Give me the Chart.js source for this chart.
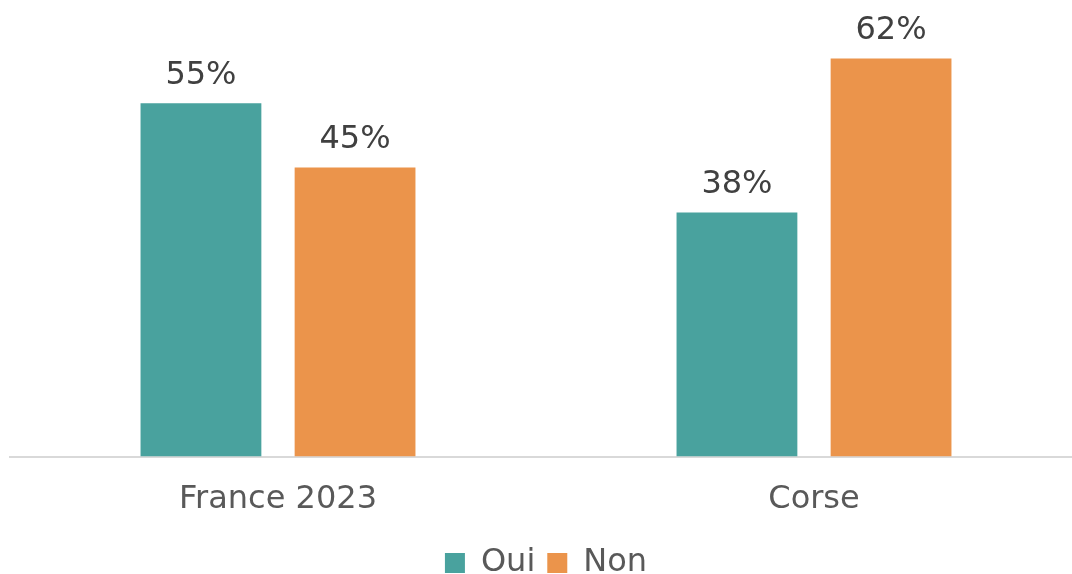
<!DOCTYPE html>
<html>
<head>
<meta charset="utf-8">
<script src="https://cdn.jsdelivr.net/npm/chart.js@4"></script>
<style>
  html, body { margin: 0; padding: 0; background: #fff; overflow: hidden; }
  #wrap { width: 1082px; height: 589px; }
</style>
</head>
<body>
<div id="wrap"><canvas id="chart"></canvas></div>
<script>
const categories = ["France 2023", "Corse"];
const seriesNames = ["Oui", "Non"];
const ouiValues = [55, 38];
const nonValues = [45, 62];
const seriesColors = ["#49A29E", "#EB944B"];

const FONT = "'DejaVu Sans', Verdana, sans-serif";

// draws the percentage above each bar
const barLabels = {
  id: "barLabels",
  afterDatasetsDraw(chart) {
    const ctx = chart.ctx;
    ctx.save();
    ctx.font = "32px " + FONT;
    ctx.fillStyle = "#404040";
    ctx.textAlign = "center";
    ctx.textBaseline = "bottom";
    chart.data.datasets.forEach((ds, i) => {
      chart.getDatasetMeta(i).data.forEach((bar, j) => {
        ctx.fillText(ds.data[j] + "%", bar.x, bar.y - 12);
      });
    });
    ctx.restore();
  }
};

new Chart(document.getElementById("chart"), {
  type: "bar",
  data: {
    labels: categories,
    datasets: [
      { label: seriesNames[0], data: ouiValues, backgroundColor: seriesColors[0] },
      { label: seriesNames[1], data: nonValues, backgroundColor: seriesColors[1] }
    ]
  },
  options: {
    responsive: true,
    maintainAspectRatio: false,
    animation: false,
    categoryPercentage: 0.575,
    barPercentage: 0.784,
    layout: { padding: { left: 10, right: 0, top: 7, bottom: 0 } },
    scales: {
      x: {
        grid: { display: false },
        border: { color: "#d9d9d9", width: 2 },
        ticks: { color: "#595959", font: { family: FONT, size: 32 }, padding: 16 }
      },
      y: {
        display: false,
        min: 0,
        max: 70
      }
    },
    plugins: {
      legend: {
        position: "bottom",
        labels: {
          color: "#595959",
          font: { family: FONT, size: 32, lineHeight: 1 },
          boxWidth: 20,
          boxHeight: 20,
          padding: 12
        }
      },
      tooltip: { enabled: false }
    }
  },
  plugins: [barLabels]
});
</script>
</body>
</html>
